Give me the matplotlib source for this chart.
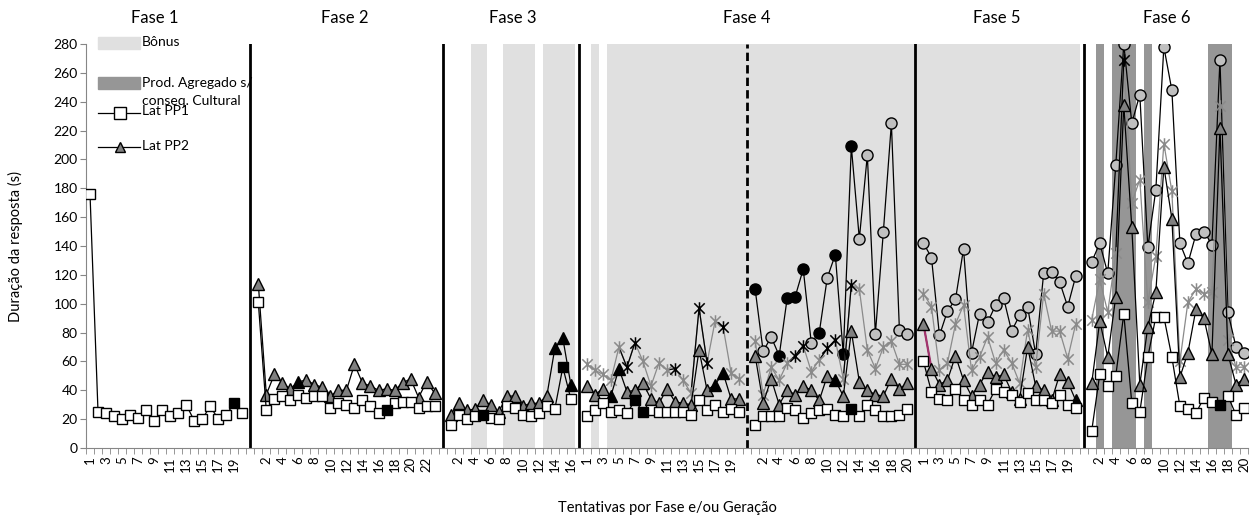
import numpy as np
import matplotlib
matplotlib.use('Agg')
import matplotlib.pyplot as plt
import matplotlib.transforms as mtransforms
from matplotlib.lines import Line2D
from matplotlib.patches import Rectangle
from matplotlib.path import Path

plt.rcParams['font.family'] = ['Lato', 'DejaVu Sans']

# blocks of trials (Fase 4 is split in two generations by the dashed line)
block_sizes = [20, 23, 16, 20, 20, 20, 20]
phase_names = ['Fase 1', 'Fase 2', 'Fase 3', 'Fase 4', 'Fase 5', 'Fase 6']

# latencies (s) per block; None where the participant was not present
lat_pp1 = [
    [176, 25, 24, 22, 20, 23, 21, 26, 19, 26, 22, 24, 30, 19, 20, 29, 20, 23, 31, 24],
    [101, 26, 34, 36, 33, 37, 35, 36, 36, 28, 31, 30, 28, 33, 29, 24, 26, 31, 32, 32, 28, 29, 29],
    [16, 23, 20, 22, 23, 21, 20, 29, 28, 23, 22, 24, 29, 27, 56, 34],
    [22, 26, 31, 25, 26, 24, 33, 25, 26, 25, 25, 25, 25, 23, 33, 26, 30, 25, 27, 25],
    [16, 22, 22, 22, 28, 26, 21, 24, 26, 27, 23, 22, 27, 22, 30, 26, 22, 22, 23, 27],
    [60, 39, 34, 33, 41, 33, 30, 33, 30, 41, 39, 37, 32, 38, 33, 33, 31, 37, 30, 28],
    [12, 51, 43, 50, 93, 31, 25, 63, 91, 91, 63, 29, 27, 24, 35, 32, 30, 36, 23, 28],
]
lat_pp2 = [
    None,
    [114, 37, 51, 45, 41, 46, 47, 44, 42, 36, 40, 40, 58, 45, 43, 40, 41, 40, 45, 48, 35, 46, 38],
    [23, 31, 26, 27, 33, 30, 25, 36, 36, 29, 31, 31, 36, 69, 76, 44],
    [43, 37, 41, 36, 55, 39, 40, 45, 34, 31, 41, 32, 31, 30, 68, 40, 44, 52, 34, 34],
    [64, 31, 48, 30, 40, 37, 43, 40, 33, 50, 47, 36, 81, 46, 40, 37, 36, 48, 41, 45],
    [86, 55, 44, 47, 64, 47, 36, 44, 53, 49, 51, 39, 34, 70, 43, 40, 33, 51, 46, 33],
    [45, 88, 63, 105, 238, 153, 44, 84, 108, 195, 159, 49, 66, 96, 90, 65, 222, 65, 44, 48],
]
lat_pp3 = [
    None, None, None,
    [58, 54, 51, 47, 70, 56, 73, 60, 43, 59, 54, 55, 47, 38, 97, 59, 88, 84, 52, 48],
    [74, 37, 56, 47, 59, 64, 71, 53, 61, 69, 75, 48, 113, 110, 68, 55, 70, 74, 58, 58],
    [107, 98, 54, 59, 86, 99, 54, 63, 77, 59, 68, 59, 45, 82, 56, 107, 81, 81, 62, 86],
    [89, 117, 94, 135, 269, 170, 186, 101, 133, 211, 178, 60, 101, 110, 107, 108, 237, 75, 56, 56],
]
lat_pp4 = [
    None, None, None, None,
    [110, 67, 77, 64, 104, 105, 124, 73, 80, 118, 134, 65, 209, 145, 203, 79, 150, 225, 82, 79],
    [142, 132, 78, 95, 103, 138, 66, 93, 87, 99, 104, 81, 92, 98, 65, 121, 122, 115, 98, 119],
    [129, 142, 121, 196, 280, 225, 245, 139, 179, 278, 248, 142, 128, 148, 150, 141, 269, 94, 70, 66],
]

# trials (1-based) shown with black markers, per block
black_pp1 = [[19], [17], [5, 15], [7, 8], [13], [], [17]]
black_pp2 = [[], [6], [14, 15, 16], [4, 5, 17, 18], [11], [20], []]
black_pp3 = [[], [], [], [6, 7, 12, 15, 16, 18], [6, 7, 10, 11, 13], [], [5]]
black_pp4 = [[], [], [], [], [1, 4, 5, 6, 7, 9, 11, 12, 13], [], []]

# trials with bonus / aggregated product without cultural consequence
bonus_trials = [[], [], [4, 5, 8, 9, 10, 11, 13, 14, 15, 16],
                [2] + list(range(4, 21)), list(range(1, 21)), list(range(1, 21)), []]
agregado_trials = [[], [], [], [], [], [], [2, 4, 5, 6, 8, 16, 17, 18]]

# start index of each block, one empty category between blocks
starts = []
pos = 0
for n in block_sizes:
    starts.append(pos)
    pos += n + 1
n_cat = pos - 1
separators = [s - 1 for s in starts[1:]]

c_bonus = '#e0e0e0'
c_agreg = '#969696'
c_star = '#8a8a8a'

fig = plt.figure(figsize=(12.55, 5.16), dpi=100)
ax = fig.add_axes([86 / 1255, 68 / 516, 1162 / 1255, 404 / 516])

# background bands
bonus_idx = [starts[b] + t - 1 for b in range(len(block_sizes)) for t in bonus_trials[b]]
agreg_idx = [starts[b] + t - 1 for b in range(len(block_sizes)) for t in agregado_trials[b]]
for s in separators:
    if s - 1 in bonus_idx and s + 1 in bonus_idx:
        bonus_idx.append(s)
ax.bar(bonus_idx, 280, width=1.0, color=c_bonus, zorder=0, linewidth=0)
ax.bar(agreg_idx, 280, width=1.0, color=c_agreg, zorder=0, linewidth=0)

# block separators
for k, s in enumerate(separators):
    ax.axvline(s, color='black', lw=2, ls=(0, (3, 1.5)) if k == 3 else '-', zorder=1)

star = Path([(-1, -1), (1, 1), (-1, 1), (1, -1), (0, -1.2), (0, 1.2)],
            [Path.MOVETO, Path.LINETO, Path.MOVETO, Path.LINETO, Path.MOVETO, Path.LINETO])


def draw_series(blocks, blacks, marker, face, line_color, ms, z, filled=True):
    for b, vals in enumerate(blocks):
        if vals is None:
            continue
        xs = starts[b] + np.arange(len(vals))
        vals = np.array(vals, dtype=float)
        ax.plot(xs, vals, color=line_color, lw=0.9, zorder=z)
        blk = np.array([t - 1 for t in blacks[b]], dtype=int)
        # segment leading into a highlighted point takes its colour
        for i in blk:
            if i > 0 and line_color != 'black':
                ax.plot(xs[i - 1:i + 1], vals[i - 1:i + 1], color='black', lw=0.9, zorder=z)
        other = np.setdiff1d(np.arange(len(vals)), blk)
        if filled:
            ax.plot(xs[other], vals[other], ls='none', marker=marker, ms=ms,
                    mfc=face, mec='black', mew=1, zorder=z + 0.5)
            if len(blk):
                ax.plot(xs[blk], vals[blk], ls='none', marker=marker, ms=ms,
                        mfc='black', mec='black', mew=1, zorder=z + 0.5)
        else:
            ax.plot(xs[other], vals[other], ls='none', marker=marker, ms=ms,
                    mec=face, mew=1.1, zorder=z + 0.5)
            if len(blk):
                ax.plot(xs[blk], vals[blk], ls='none', marker=marker, ms=ms,
                        mec='black', mew=1.1, zorder=z + 0.5)


draw_series(lat_pp4, black_pp4, 'o', '#c0c0c0', 'black', 8, 3)
draw_series(lat_pp3, black_pp3, star, c_star, c_star, 9, 4, filled=False)
draw_series(lat_pp2, black_pp2, '^', '#808080', 'black', 8, 5)
draw_series(lat_pp1, black_pp1, 's', 'white', 'black', 7, 6)

# PP2, first two trials of Fase 5
b5 = starts[5]
ax.plot([b5, b5 + 1], lat_pp2[5][:2], color='#a3336d', lw=1.6, zorder=5.2)

ax.set_xlim(-0.5, n_cat - 0.5)
ax.set_ylim(0, 280)
ax.set_yticks(np.arange(0, 281, 20))

tick_pos, tick_lab = [], []
for b, n in enumerate(block_sizes):
    for t in range(1, n + 1):
        i = starts[b] + t - 1
        tick_pos.append(i)
        tick_lab.append(str(t) if i % 2 == 0 else '')
ax.set_xticks(tick_pos)
ax.set_xticklabels(tick_lab, rotation=90, fontsize=9.5)
ax.set_xticks(np.arange(-0.5, n_cat, 1), minor=True)
ax.tick_params(axis='x', which='major', length=0, pad=6)
ax.tick_params(axis='x', which='minor', length=4, color='#868686')
ax.tick_params(axis='y', length=4, color='#868686', labelsize=10, pad=2)

for side in ['top', 'right']:
    ax.spines[side].set_visible(False)
for side in ['left', 'bottom']:
    ax.spines[side].set_color('#868686')

ax.set_ylabel('Duração da resposta (s)', fontsize=10.5, labelpad=22)
ax.set_xlabel('Tentativas por Fase e/ou Geração', fontsize=10.5, labelpad=21)

# phase titles
trans = mtransforms.blended_transform_factory(ax.transData, ax.transAxes)
title_x = [8.1, 31.8, 52.7, 82, 113.1, 134.4]
for name, xt in zip(phase_names, title_x):
    ax.text(xt, 1.064, name, transform=trans, ha='center', va='center', fontsize=12)

# legend drawn by hand in axes coordinates


def fx(px):
    return (px - 86) / 1162


def fy(py):
    return (448 - py) / 404


ax.add_patch(Rectangle((fx(98), fy(49)), fx(140) - fx(98), fy(37) - fy(49),
                       transform=ax.transAxes, color=c_bonus, zorder=7, clip_on=False))
ax.text(fx(142), fy(42), 'Bônus', transform=ax.transAxes, va='center', fontsize=10, zorder=8)
ax.add_patch(Rectangle((fx(98), fy(89)), fx(140) - fx(98), fy(77) - fy(89),
                       transform=ax.transAxes, color=c_agreg, zorder=7, clip_on=False))
ax.text(fx(142), fy(83), 'Prod. Agregado s/', transform=ax.transAxes, va='center',
        fontsize=10, zorder=8)
ax.text(fx(142), fy(101), 'conseq. Cultural', transform=ax.transAxes, va='center',
        fontsize=10, zorder=8)
ax.add_line(Line2D([fx(98), fx(140)], [fy(113), fy(113)], transform=ax.transAxes,
                   color='black', lw=0.9, marker=None, zorder=7))
ax.plot([fx(120)], [fy(113)], transform=ax.transAxes, marker='s', ms=9, mfc='white',
        mec='black', mew=1, zorder=8, clip_on=False)
ax.text(fx(142), fy(111), 'Lat PP1', transform=ax.transAxes, va='center', fontsize=10, zorder=8)
ax.add_line(Line2D([fx(98), fx(140)], [fy(147), fy(147)], transform=ax.transAxes,
                   color='black', lw=0.9, zorder=7))
ax.plot([fx(120)], [fy(147)], transform=ax.transAxes, marker='^', ms=7, mfc='#808080',
        mec='black', mew=1, zorder=8, clip_on=False)
ax.text(fx(142), fy(146), 'Lat PP2', transform=ax.transAxes, va='center', fontsize=10, zorder=8)

fig.savefig('out.png', dpi=100)
